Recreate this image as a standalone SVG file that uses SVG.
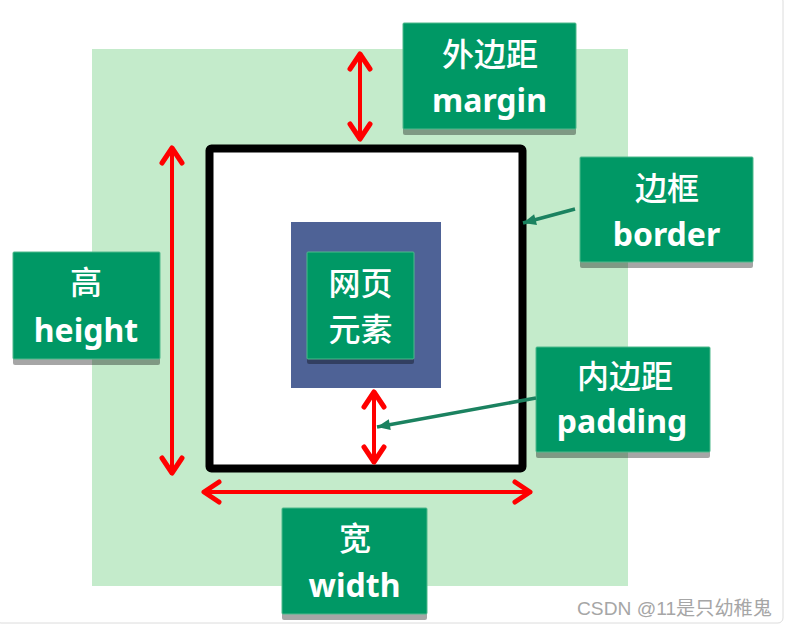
<svg xmlns="http://www.w3.org/2000/svg" width="787" height="628" viewBox="0 0 787 628">
  <style>
    .box { fill: #009865; stroke: #4fb98c; stroke-width: 1; }
    .shadow { fill: #000; fill-opacity: 0.35; }
    .cjk { font-family: "Noto Sans CJK SC", "Noto Sans", sans-serif; font-size: 32px; font-weight: 500; fill: #ffffff; text-anchor: middle; }
    .en { font-family: "Noto Sans", "Liberation Sans", sans-serif; font-size: 32px; font-weight: bold; fill: #ffffff; text-anchor: middle; }
    .red { stroke: #ff0000; stroke-width: 4; fill: none; }
    .ptr { stroke: #1b8260; stroke-width: 3.5; fill: none; }
  </style>
  <defs>
    <marker id="chev" markerUnits="userSpaceOnUse" viewBox="-24 -16 28 32" markerWidth="28" markerHeight="32" refX="0" refY="0" orient="auto-start-reverse">
      <path d="M-16,-10 L-1,0 L-16,10" fill="none" stroke="#ff0000" stroke-width="5" stroke-linecap="round" stroke-linejoin="round"/>
    </marker>
    <marker id="tri" markerUnits="userSpaceOnUse" viewBox="-14 -7 16 14" markerWidth="16" markerHeight="14" refX="0" refY="0" orient="auto">
      <path d="M-13,-5.5 L0,0 L-13,5.5 Z" fill="#1b8260"/>
    </marker>
  </defs>

  <rect x="-4" y="-4" width="787" height="627" rx="5" fill="#ffffff" stroke="#dcdcdc" stroke-width="1"/>

  <g id="margin-area">
    <rect x="92" y="49" width="536" height="537" fill="#c4ebcb"/>
  </g>

  <g id="border-box">
    <rect x="209.5" y="148.5" width="313" height="320" rx="2" fill="#ffffff" stroke="#000000" stroke-width="8"/>
  </g>

  <g id="padding-area">
    <rect x="291" y="222" width="150" height="166" fill="#4e6296"/>
  </g>

  <g id="element">
    <rect class="shadow" x="307" y="355" width="107" height="9" rx="2"/>
    <rect class="box" x="307" y="252" width="107" height="107" rx="1"/>
    <text class="cjk" x="360.5" y="295">网页</text>
    <text class="cjk" x="360.5" y="341">元素</text>
  </g>

  <g id="label-margin">
    <rect class="shadow" x="403" y="126" width="173" height="9" rx="2"/>
    <rect class="box" x="403" y="23" width="173" height="106" rx="1"/>
    <text class="cjk" x="490" y="66">外边距</text>
    <text class="en" x="489.5" y="112">margin</text>
  </g>

  <g id="label-border">
    <rect class="shadow" x="580" y="259" width="173" height="9" rx="2"/>
    <rect class="box" x="580" y="157" width="173" height="105" rx="1"/>
    <text class="cjk" x="667" y="200">边框</text>
    <text class="en" x="666.5" y="246">border</text>
  </g>

  <g id="label-padding">
    <rect class="shadow" x="536" y="449" width="174" height="9" rx="2"/>
    <rect class="box" x="536" y="347" width="174" height="105" rx="1"/>
    <text class="cjk" x="625" y="388">内边距</text>
    <text class="en" x="622" y="433">padding</text>
  </g>

  <g id="label-height">
    <rect class="shadow" x="13" y="356" width="147" height="9" rx="2"/>
    <rect class="box" x="13" y="252" width="147" height="107" rx="1"/>
    <text class="cjk" x="86" y="294">高</text>
    <text class="en" x="86" y="342">height</text>
  </g>

  <g id="label-width">
    <rect class="shadow" x="282" y="611" width="145" height="9" rx="2"/>
    <rect class="box" x="282" y="508" width="145" height="106" rx="1"/>
    <text class="cjk" x="355" y="550">宽</text>
    <text class="en" x="354.5" y="597">width</text>
  </g>

  <g id="connectors">
    <line class="red" x1="360" y1="53" x2="360" y2="140" marker-start="url(#chev)" marker-end="url(#chev)"/>
    <line class="red" x1="172" y1="147" x2="172" y2="474" marker-start="url(#chev)" marker-end="url(#chev)"/>
    <line class="red" x1="203" y1="492" x2="531" y2="492" marker-start="url(#chev)" marker-end="url(#chev)"/>
    <line class="red" x1="374" y1="391" x2="374" y2="463" marker-start="url(#chev)" marker-end="url(#chev)"/>
    <line class="ptr" x1="575" y1="209" x2="523" y2="223" marker-end="url(#tri)"/>
    <line class="ptr" x1="536" y1="398" x2="377" y2="427" marker-end="url(#tri)"/>
  </g>

  <text x="577" y="615" font-family="Liberation Sans, Noto Sans CJK SC, sans-serif" font-size="19" fill="#a6a6a6" textLength="195" lengthAdjust="spacingAndGlyphs">CSDN @11是只幼稚鬼</text>
</svg>
